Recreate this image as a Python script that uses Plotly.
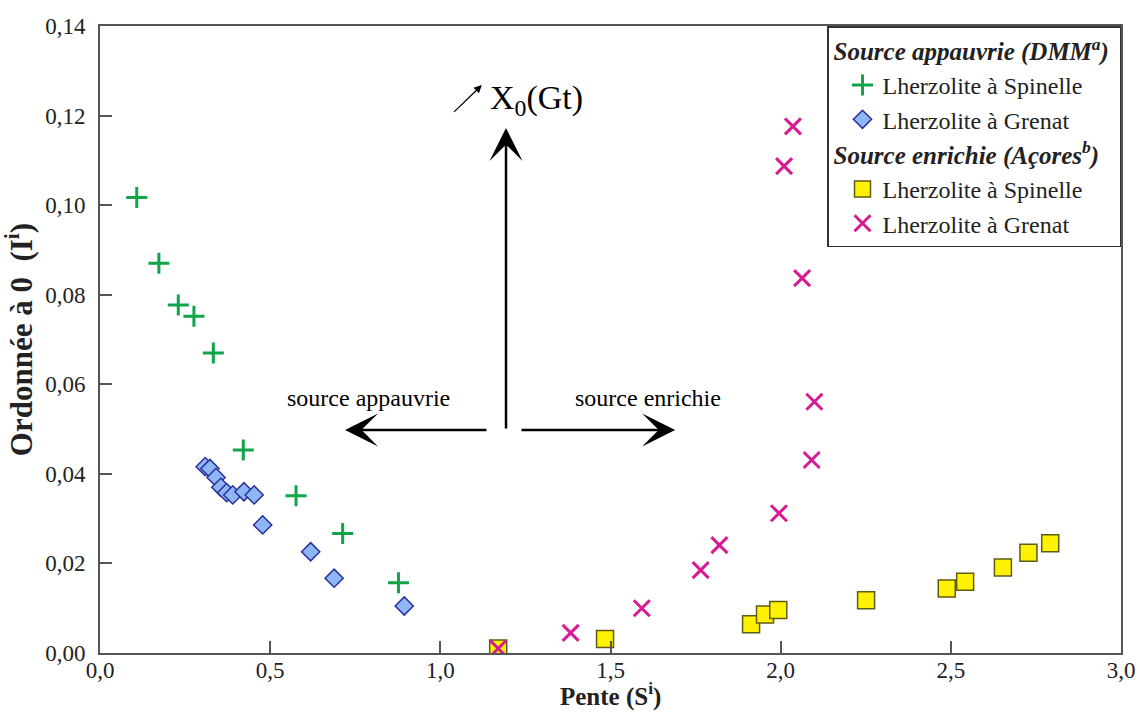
import plotly.graph_objects as go

FONT = "Liberation Serif"

# Source appauvrie (DMM) - Lherzolite à Spinelle
spinel_dmm_x = [0.108, 0.173, 0.230, 0.276, 0.333, 0.421, 0.576, 0.713, 0.877]
spinel_dmm_y = [0.1017, 0.0870, 0.0777, 0.0752, 0.0670, 0.0453, 0.0351, 0.0267, 0.0157]

# Source appauvrie (DMM) - Lherzolite à Grenat
garnet_dmm_x = [0.309, 0.323, 0.341, 0.355, 0.372, 0.390, 0.423, 0.453, 0.478, 0.619, 0.688, 0.894]
garnet_dmm_y = [0.0416, 0.0412, 0.0392, 0.0370, 0.0358, 0.0353, 0.0360, 0.0353, 0.0286, 0.0226, 0.0167, 0.0105]

# Source enrichie (Açores) - Lherzolite à Spinelle
spinel_acores_x = [1.170, 1.484, 1.913, 1.954, 1.993, 2.251, 2.488, 2.542, 2.653, 2.728, 2.792]
spinel_acores_y = [0.0010, 0.0031, 0.0064, 0.0086, 0.0096, 0.0118, 0.0144, 0.0159, 0.0191, 0.0224, 0.0245]

# Source enrichie (Açores) - Lherzolite à Grenat
garnet_acores_x = [1.170, 1.383, 1.592, 1.765, 1.820, 1.995, 2.091, 2.099, 2.063, 2.010, 2.036]
garnet_acores_y = [0.0010, 0.0045, 0.0100, 0.0185, 0.0241, 0.0312, 0.0431, 0.0561, 0.0837, 0.1087, 0.1176]

GROUP_DMM = "<b><i>Source appauvrie (DMM<sup>a</sup>)</i></b>"
GROUP_ACORES = "<b><i>Source enrichie (Açores<sup>b</sup>)</i></b>"

fig = go.Figure()

fig.add_trace(go.Scatter(
    x=spinel_dmm_x, y=spinel_dmm_y, mode="markers", name="Lherzolite à Spinelle",
    legendgroup="dmm", legendgrouptitle=dict(text=GROUP_DMM),
    marker=dict(symbol="cross-thin", size=15, line=dict(color="#0FA548", width=3)),
))
fig.add_trace(go.Scatter(
    x=garnet_dmm_x, y=garnet_dmm_y, mode="markers", name="Lherzolite à Grenat",
    legendgroup="dmm",
    marker=dict(symbol="diamond", size=14, color="#8EB6F4", line=dict(color="#2B2F9E", width=1.5)),
))
fig.add_trace(go.Scatter(
    x=spinel_acores_x, y=spinel_acores_y, mode="markers", name="Lherzolite à Spinelle",
    legendgroup="acores", legendgrouptitle=dict(text=GROUP_ACORES),
    marker=dict(symbol="square", size=17, color="#FFF200", line=dict(color="#5F5C12", width=1.5)),
))
fig.add_trace(go.Scatter(
    x=garnet_acores_x, y=garnet_acores_y, mode="markers", name="Lherzolite à Grenat",
    legendgroup="acores",
    marker=dict(symbol="x-thin", size=16, line=dict(color="#D81B93", width=3)),
))


def arrow(x, y, ax, ay, head=3, size=2.2, width=2.5):
    fig.add_annotation(
        x=x, y=y, ax=ax, ay=ay, xref="x", yref="y", axref="x", ayref="y",
        text="", showarrow=True, arrowhead=head, arrowsize=size,
        arrowwidth=width, arrowcolor="black", standoff=0, startstandoff=0,
    )


# direction arrows
arrow(1.193, 0.1172, 1.193, 0.0498)
arrow(0.720, 0.0498, 1.140, 0.0498)
arrow(1.690, 0.0498, 1.234, 0.0498)
arrow(1.122, 0.1268, 1.036, 0.1205, head=2, size=1.2, width=1.3)

fig.add_annotation(x=1.284, y=0.1234, xref="x", yref="y", showarrow=False,
                   text="X<sub>0</sub>(Gt)", font=dict(family=FONT, size=34, color="black"))
fig.add_annotation(x=0.790, y=0.0569, xref="x", yref="y", showarrow=False,
                   text="source appauvrie", font=dict(family=FONT, size=24, color="black"))
fig.add_annotation(x=1.610, y=0.0569, xref="x", yref="y", showarrow=False,
                   text="source enrichie", font=dict(family=FONT, size=24, color="black"))

# x-axis title, placed just under the tick labels
fig.add_annotation(x=0.5, y=-0.066, xref="paper", yref="paper", showarrow=False,
                   yanchor="middle", text="<b>Pente (S<sup>i</sup>)</b>",
                   font=dict(family=FONT, size=25, color="#222222"))

axis_common = dict(
    showgrid=False, zeroline=False, showline=True, linecolor="#555555", linewidth=2,
    mirror=True, ticks="inside", ticklen=12, tickwidth=1.5, tickcolor="#555555",
    tickfont=dict(family=FONT, size=23, color="#222222"), automargin=False,
    ticklabeloverflow="allow",
)

fig.update_xaxes(range=[0, 3.0], dtick=0.5, tickformat=".1f", ticklabelstandoff=-5, **axis_common)
fig.update_yaxes(
    range=[0, 0.14], dtick=0.02, tickformat=".2f", ticklabelstandoff=8,
    title=dict(text="<b>Ordonnée à 0 \u00a0(I<sup>i</sup>)</b>",
               font=dict(family=FONT, size=31, color="#222222"), standoff=6),
    **axis_common,
)

fig.update_layout(
    width=1140, height=716,
    margin=dict(l=100, r=19, t=26, b=63),
    separators=", ",
    plot_bgcolor="white", paper_bgcolor="white",
    font=dict(family=FONT, color="#222222"),
    showlegend=True,
    legend=dict(
        x=1, xanchor="right", y=1, yanchor="top",
        bgcolor="white", bordercolor="#333333", borderwidth=1.5,
        font=dict(family=FONT, size=24, color="#222222"),
        grouptitlefont=dict(family=FONT, size=25, color="#222222"),
        tracegroupgap=0, indentation=14,
    ),
)

# drop the default body margin so the figure fills the window exactly
fig.write_html(
    "out.html",
    config={"displayModeBar": False},
    post_script="document.body.style.margin = '0';",
)
